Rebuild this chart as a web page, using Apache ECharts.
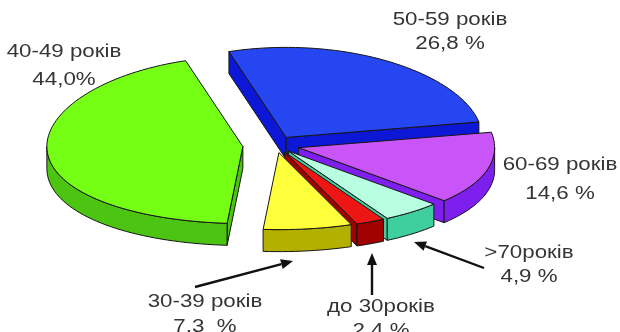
<!DOCTYPE html>
<html>
<head>
<meta charset="utf-8">
<script src="https://cdn.jsdelivr.net/npm/echarts@6/dist/echarts.min.js"></script>
<style>
  html, body { margin: 0; padding: 0; background: #ffffff; }
  #chart { width: 620px; height: 332px; }
</style>
</head>
<body>
<div id="chart"></div>
<script>
// Age groups, in the order the slices run clockwise
const categories = ['до 30років', '30-39 років', '40-49 років', '50-59 років', '60-69 років', '>70років'];
const shares = [2.4, 7.3, 44.0, 26.8, 14.6, 4.9];
const percentSuffix = [' %', '  %', '%', ' %', ' %', ' %'];

// Slice appearance
const topColors = ['#ee1515', '#ffff3c', '#74ff14', '#2646f2', '#c955f8', '#b8ffe2'];
const sideColors = ['#a00000', '#b3b000', '#4cc412', '#0c18d6', '#7e1ff0', '#3fcf9f'];
const explode = [0.1, 0.1, 0.17, 0.1, 0.12, 0.1];

// Oblique projection of the pie disc
const CX = 276, CY = 145;      // disc centre on screen
const RX = 196;                // horizontal radius
const RY0 = 83.5, RYD = 6.5;   // vertical radius (slightly larger at the back)
const DEPTH = 22;              // disc thickness
const START = 149.7;           // first slice starts here, degrees clockwise from 12 o'clock

const total = shares.reduce((a, b) => a + b, 0);
const bounds = [];
{
  let cum = 0;
  shares.forEach(v => {
    const a0 = START + cum / total * 360;
    cum += v;
    bounds.push([a0, START + cum / total * 360]);
  });
}

function proj(cx, cy, deg, r, dz) {
  const t = deg * Math.PI / 180;
  const c = Math.cos(t);
  return [cx + RX * r * Math.sin(t), cy - r * (RY0 + RYD * c) * c + (dz || 0)];
}

function arc(cx, cy, d0, d1, dz) {
  const pts = [];
  const n = Math.max(2, Math.ceil(Math.abs(d1 - d0) / 2));
  for (let k = 0; k <= n; k++) pts.push(proj(cx, cy, d0 + (d1 - d0) * k / n, 1, dz));
  return pts;
}

const edge = { stroke: '#161616', lineWidth: 1, lineJoin: 'round' };

function polygon(points, fill, z2) {
  const sum = points.reduce((s, p) => s + p[1], 0);
  return {
    type: 'polygon',
    z2: z2 != null ? z2 : Math.round(sum / points.length),
    shape: { points: points },
    style: Object.assign({ fill: fill }, edge)
  };
}

function renderSlice(params, api) {
  const i = params.dataIndex;
  const value = api.value(1);
  const a0 = bounds[i][0];
  const a1 = a0 + value / total * 360;
  const mid = (a0 + a1) / 2;
  const off = proj(0, 0, mid, explode[i], 0);
  const cx = CX + off[0], cy = CY + off[1];
  const apex = [cx, cy];
  const apexLow = [cx, cy + DEPTH];
  const children = [];

  // front part of the rim (faces the viewer where the angle lies in 90..270)
  for (let k = -1; k <= 1; k++) {
    const lo = Math.max(a0, 90 + 360 * k), hi = Math.min(a1, 270 + 360 * k);
    if (hi > lo) {
      const upper = arc(cx, cy, lo, hi, 0);
      const lower = arc(cx, cy, lo, hi, DEPTH).reverse();
      children.push(polygon(upper.concat(lower), sideColors[i]));
    }
  }
  // radial cut faces that turn toward the viewer
  const s0 = Math.sin(a0 * Math.PI / 180), s1 = Math.sin(a1 * Math.PI / 180);
  if (s0 < 0) {
    const p = proj(cx, cy, a0, 1, 0), q = proj(cx, cy, a0, 1, DEPTH);
    children.push(polygon([apex, p, q, apexLow], sideColors[i]));
  }
  if (s1 > 0) {
    const p = proj(cx, cy, a1, 1, 0), q = proj(cx, cy, a1, 1, DEPTH);
    children.push(polygon([apex, p, q, apexLow], sideColors[i]));
  }
  // top face
  children.push(polygon([apex].concat(arc(cx, cy, a0, a1, 0)), topColors[i], 1000 + i));
  return { type: 'group', children: children };
}

// Label layout: [centre x, centre y of name line, centre y of value line]
const labelPos = [
  [381, 307, 331],
  [205, 302, 327],
  [64, 52, 80],
  [450, 20, 44],
  [560, 165, 194],
  [529, 253, 277]
];
// Pointer arrows for the small slices: [from x, from y, to x, to y]
const pointers = {
  0: [372, 295, 372, 253],
  1: [195, 287, 293, 261],
  5: [484, 268, 414, 242]
};

const textStyle = { font: '18px "Liberation Sans", Arial, sans-serif', fill: '#353535', align: 'center', verticalAlign: 'middle' };
const graphics = [];
categories.forEach((name, i) => {
  const [x, y1, y2] = labelPos[i];
  const pct = shares[i].toFixed(1).replace('.', ',') + percentSuffix[i];
  [[name, y1], [pct, y2]].forEach(([t, y]) => {
    graphics.push({
      type: 'text', x: x, y: y, scaleX: 1.24, scaleY: 1, z: 10,
      style: Object.assign({ text: t }, textStyle)
    });
  });
  const ptr = pointers[i];
  if (ptr) {
    const [x0, y0, x1, y1b] = ptr;
    const ang = Math.atan2(y1b - y0, x1 - x0);
    const L = 12, W = 5;
    const bx = x1 - L * Math.cos(ang), by = y1b - L * Math.sin(ang);
    graphics.push({
      type: 'line', z: 10,
      shape: { x1: x0, y1: y0, x2: bx, y2: by },
      style: { stroke: '#111', lineWidth: 2.4 }
    });
    graphics.push({
      type: 'polygon', z: 10,
      shape: { points: [[x1, y1b], [bx - W * Math.sin(ang), by + W * Math.cos(ang)], [bx + W * Math.sin(ang), by - W * Math.cos(ang)]] },
      style: { fill: '#111' }
    });
  }
});

const chart = echarts.init(document.getElementById('chart'), null, { renderer: 'canvas' });
chart.setOption({
  backgroundColor: '#ffffff',
  animation: false,
  series: [{
    type: 'custom',
    coordinateSystem: 'none',
    renderItem: renderSlice,
    data: shares.map((v, i) => ({ name: categories[i], value: [i, v] }))
  }],
  graphic: graphics
});
</script>
</body>
</html>
